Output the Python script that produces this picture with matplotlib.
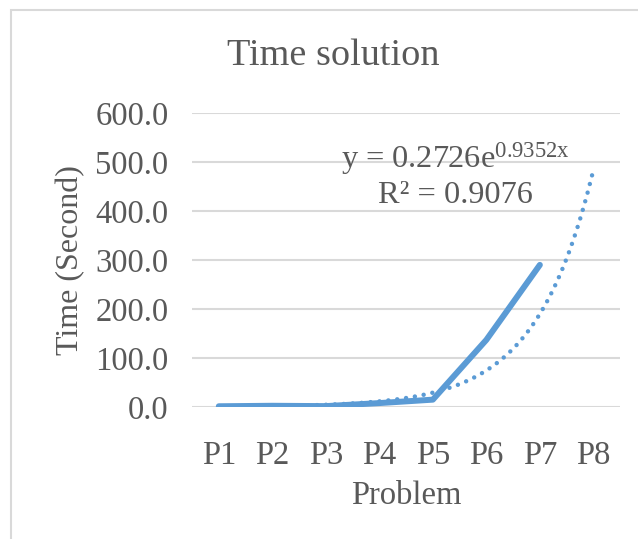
import matplotlib
matplotlib.use('Agg')
import matplotlib.pyplot as plt
import numpy as np
from matplotlib.patches import Rectangle

# data
problems = ['P1', 'P2', 'P3', 'P4', 'P5', 'P6', 'P7', 'P8']
times = [1.5, 2.5, 1.8, 8.0, 15.0, 137.0, 290.0]
# exponential trendline shown on the chart: y = a * e^(b x)
trend_a = 0.2726
trend_b = 0.9352
r_squared = 0.9076
y_ticks = [0, 100, 200, 300, 400, 500, 600]

plt.rcParams['font.family'] = ['Liberation Serif', 'DejaVu Serif']
plt.rcParams['mathtext.fontset'] = 'custom'
plt.rcParams['mathtext.rm'] = 'Liberation Serif'
plt.rcParams['mathtext.default'] = 'regular'

txt = '#595959'
blue = '#5B9BD5'
grid = '#d9d9d9'

fig = plt.figure(figsize=(6.38, 5.39), dpi=100)
ax = fig.add_axes([0.301, 0.2449, 0.671, 0.5455])

x = np.arange(1, len(times) + 1)
ax.plot(x, times, color=blue, lw=4.3, solid_capstyle='round', solid_joinstyle='round', zorder=3)

xx = np.linspace(1, len(problems), 200)
ax.plot(xx, trend_a * np.exp(trend_b * xx), color=blue, lw=3.2,
        linestyle=(0, (0.01, 2.0)), dash_capstyle='round', zorder=2)

ax.set_xlim(0.5, len(problems) + 0.5)
ax.set_ylim(0, 600)
ax.set_xticks(np.arange(1, len(problems) + 1))
ax.set_xticklabels(problems)
ax.set_yticks(y_ticks)
ax.set_yticklabels(['{:.1f}'.format(v) for v in y_ticks])
ax.yaxis.grid(True, color=grid, lw=1.5)
ax.set_axisbelow(True)
for s in ax.spines.values():
    s.set_visible(False)
ax.tick_params(axis='both', length=0, labelsize=23.5, colors=txt)
ax.tick_params(axis='y', pad=17)
ax.tick_params(axis='x', pad=24)

ax.set_xlabel('Problem', fontsize=23.5, color=txt, labelpad=7)
ax.set_ylabel('Time (Second)', fontsize=23, color=txt, labelpad=7)
fig.text(0.522, 0.897, 'Time solution', fontsize=27.5, color=txt, ha='center', va='center')

ax.text(0.616, 0.813, 'y = 0.2726e$^{0.9352x}$', transform=ax.transAxes,
        fontsize=23.3, color=txt, ha='center', va='baseline')
ax.text(0.616, 0.694, 'R² = {:.4f}'.format(r_squared), transform=ax.transAxes,
        fontsize=23.3, color=txt, ha='center', va='baseline')

fig.patches.append(Rectangle((11 / 638, -0.1), 1.2, 1 - 10 / 539 + 0.1,
                             transform=fig.transFigure, fill=False,
                             edgecolor=grid, lw=1.5))

fig.savefig('out.png', dpi=100)
